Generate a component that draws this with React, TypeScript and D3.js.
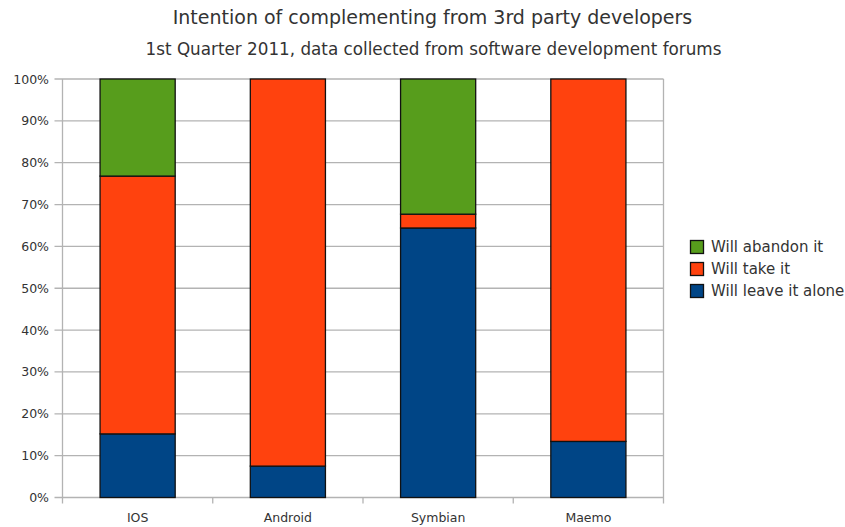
import React from "react";
import * as d3 from "d3";

const categories = ["IOS", "Android", "Symbian", "Maemo"];
const leaveAlone = [15.2, 7.5, 64.4, 13.4];
const takeIt = [61.6, 92.5, 3.3, 86.6];
const abandon = [23.2, 0, 32.3, 0];
const seriesNames = ["Will leave it alone", "Will take it", "Will abandon it"];
const seriesColors = ["#004586", "#ff420e", "#579d1c"];
const yTicks = [0, 10, 20, 30, 40, 50, 60, 70, 80, 90, 100];

const W = 845, H = 527;
const left = 62.5, right = 663.5, top = 79, bottom = 497.5;
const font = "'DejaVu Sans', sans-serif";

export default function App() {
  const x = d3.scaleBand<string>().domain(categories).range([left, right]).paddingInner(0).paddingOuter(0);
  const y = d3.scaleLinear().domain([0, 100]).range([bottom, top]);
  const stackData = categories.map((c, i) => ({ cat: c, s0: leaveAlone[i], s1: takeIt[i], s2: abandon[i] }));
  const stacked = d3.stack<any>().keys(["s0", "s1", "s2"])(stackData);
  const bw = x.bandwidth() * 0.5;
  const boundaries = [...categories.map((c) => x(c)!), right];
  const legendOrder = [2, 1, 0];
  return (
    <svg width={W} height={H} style={{ position: "absolute", left: 0, top: 0, background: "#fff" }}>
      <text x={432.5} y={24} textAnchor="middle" fontFamily={font} fontSize={19} fill="#333">
        Intention of complementing from 3rd party developers
      </text>
      <text x={433.5} y={55} textAnchor="middle" fontFamily={font} fontSize={16.8} fill="#333">
        1st Quarter 2011, data collected from software development forums
      </text>
      {yTicks.map((t) => (
        <g key={t}>
          <line x1={left - 8} x2={right} y1={y(t)} y2={y(t)} stroke="#b3b3b3" strokeWidth={1.3} />
          <text x={49} y={y(t) + 4.5} textAnchor="end" fontFamily={font} fontSize={12.5} fill="#333">
            {t}%
          </text>
        </g>
      ))}
      {boundaries.map((b, i) => (
        <line key={i} x1={b} x2={b} y1={i === 0 || i === boundaries.length - 1 ? top : bottom} y2={bottom + 6} stroke="#b3b3b3" strokeWidth={1.3} />
      ))}
      {stacked.map((layer, si) =>
        layer.map((d, ci) =>
          d[1] - d[0] > 0 ? (
            <rect
              key={si + "-" + ci}
              x={x(categories[ci])! + (x.bandwidth() - bw) / 2}
              y={y(d[1])}
              width={bw}
              height={y(d[0]) - y(d[1])}
              fill={seriesColors[si]}
              stroke="#111"
              strokeWidth={1.3}
            />
          ) : null
        )
      )}
      {categories.map((c) => (
        <text key={c} x={x(c)! + x.bandwidth() / 2} y={522} textAnchor="middle" fontFamily={font} fontSize={12.5} fill="#333">
          {c}
        </text>
      ))}
      {legendOrder.map((si, i) => (
        <g key={si}>
          <rect x={690.5} y={240.5 + i * 22} width={13} height={13} fill={seriesColors[si]} stroke="#111" strokeWidth={1.3} />
          <text x={711} y={252 + i * 22} fontFamily={font} fontSize={15} fill="#333">
            {seriesNames[si]}
          </text>
        </g>
      ))}
    </svg>
  );
}
